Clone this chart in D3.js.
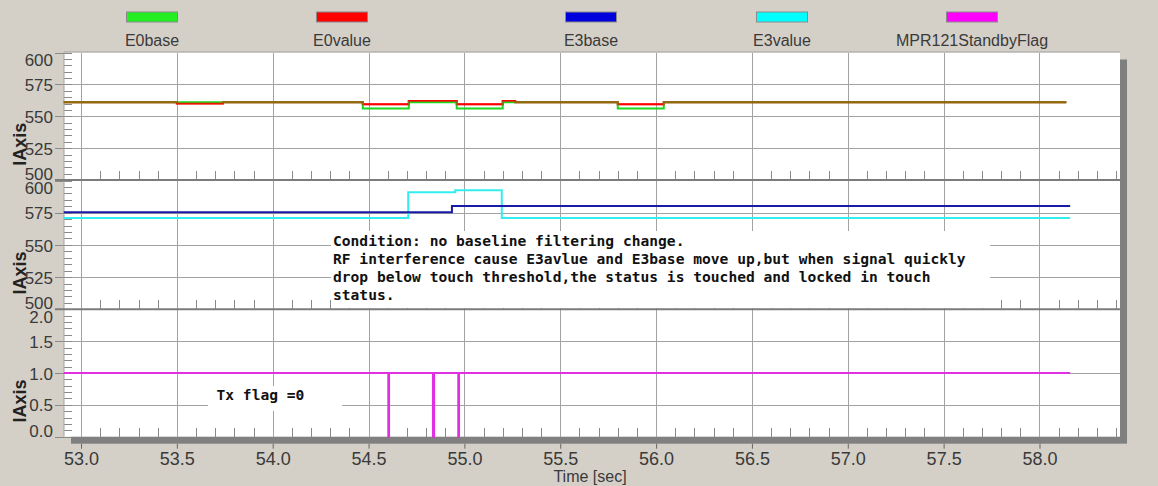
<!DOCTYPE html>
<html><head><meta charset="utf-8">
<script src="https://cdn.jsdelivr.net/npm/d3@7"></script>
<style>
body{margin:0;background:#d4d0c8;}
svg{display:block;}
</style></head><body>
<svg id="c" width="1158" height="486"></svg>
<script>
// ---------- DATA ----------
const seriesNames = ["E0base", "E0value", "E3base", "E3value", "MPR121StandbyFlag"];
const xTickValues = [53.0, 53.5, 54.0, 54.5, 55.0, 55.5, 56.0, 56.5, 57.0, 57.5, 58.0];
const yTicksE = [500, 525, 550, 575, 600];
const yTicksFlag = [0.0, 0.5, 1.0, 1.5, 2.0];

// panel 1 (step data, value holds until next time)
const e0Time  = [52.91, 53.50, 53.74, 54.47, 54.71, 54.96, 55.20, 55.265, 55.80, 56.04, 58.14];
const e0base  = [561,   561,   561,   556,   561,   556,   561,   561,    556,   561,   561];
const e0value = [561,   560,   561,   559.5, 562,   559.5, 562,   561,    559.5, 561,   561];

// panel 2
const e3Time  = [52.91, 54.707, 54.935, 54.952, 55.195, 58.16];
const e3base  = [575.3, 575.3,  580.2,  580.2,  580.2,  580.2];
const e3value = [570.8, 590.8,  590.8,  592.5,  570.8,  570.8];

// panel 3
const flagTime  = [52.91, 54.603, 54.607, 54.836, 54.842, 54.968, 54.972, 58.16];
const flagValue = [1, 0, 1, 0, 1, 0, 1, 1];

const noteLines = [
  "Condition: no baseline filtering change.",
  "RF interference cause E3avlue and E3base move up,but when signal quickly",
  "drop below touch threshold,the status is touched and locked in touch",
  "status."
];
const noteTx = "Tx flag =0";

// ---------- LAYOUT ----------
const svg = d3.select("#c");
const L = 64, R = 1120, T = 52.5, B = 436.7;
const x = d3.scaleLinear().domain([52.9113, 58.42]).range([L, R]);
const panels = [
  {y: d3.scaleLinear().domain([500, 600]).range([180, T]), ticks: yTicksE, minor: d3.range(500, 601, 5), fmt: d3.format("d"), top: T, bottom: 180},
  {y: d3.scaleLinear().domain([500, 600]).range([309.3, 180.5]), ticks: yTicksE, minor: d3.range(500, 601, 5), fmt: d3.format("d"), top: 180.5, bottom: 309.3},
  {y: d3.scaleLinear().domain([0, 2]).range([B, 309.3]), ticks: yTicksFlag, minor: d3.range(0, 2.01, 0.1), fmt: d3.format(".1f"), top: 309.3, bottom: B}
];
const gridCol = "#a3a3a3";
const sepCol = "#7c7c7c";
const textCol = "#3a3a3a";

// shadow + plot area
svg.append("rect").attr("x", L + 7).attr("y", T + 7).attr("width", R - L).attr("height", B - T).attr("fill", "#808080");
svg.append("rect").attr("x", L).attr("y", T).attr("width", R - L).attr("height", B - T).attr("fill", "#fff");

// vertical grid
svg.append("g").attr("transform", `translate(0,${B})`)
  .call(d3.axisBottom(x).tickValues(xTickValues).tickSize(-(B - T)).tickFormat(""))
  .call(g => g.select(".domain").remove())
  .call(g => g.selectAll("line").attr("stroke", gridCol).attr("shape-rendering", "crispEdges"));

// minor x ticks per panel
const minorX = d3.range(52.9, 58.45, 0.1).map(v => +v.toFixed(1)).filter(v => v > 52.92 && Math.abs(v * 2 - Math.round(v * 2)) > 1e-6);
panels.forEach(p => {
  svg.append("g").attr("transform", `translate(0,${p.bottom})`)
    .call(d3.axisTop(x).tickValues(minorX).tickSize(9).tickFormat(""))
    .call(g => g.select(".domain").remove())
    .call(g => g.selectAll("line").attr("stroke", "#8a8a8a").attr("shape-rendering", "crispEdges"));
});

// horizontal grid + y ticks
panels.forEach(p => {
  svg.append("g").attr("transform", `translate(${L},0)`)
    .call(d3.axisLeft(p.y).tickValues(p.ticks.slice(1, -1)).tickSizeInner(-(R - L)).tickSizeOuter(0).tickFormat(""))
    .call(g => g.select(".domain").remove())
    .call(g => g.selectAll("line").attr("stroke", gridCol).attr("shape-rendering", "crispEdges"));
  // minor ticks inside left
  svg.append("g").attr("transform", `translate(${L},0)`)
    .call(d3.axisRight(p.y).tickValues(p.minor).tickSize(8).tickFormat(""))
    .call(g => g.select(".domain").remove())
    .call(g => g.selectAll("line").attr("stroke", "#8a8a8a").attr("shape-rendering", "crispEdges"));
  // major ticks outside + labels
  svg.append("g").attr("transform", `translate(${L},0)`)
    .call(d3.axisLeft(p.y).tickValues(p.ticks).tickSize(9).tickPadding(2).tickFormat(p.fmt))
    .call(g => g.select(".domain").remove())
    .call(g => g.selectAll("line").attr("stroke", "#8a8a8a").attr("shape-rendering", "crispEdges"))
    .call(g => g.selectAll("text")
      .attr("font-family", "Liberation Sans, Arial, sans-serif").attr("font-size", 17).attr("fill", textCol)
      .attr("dy", 0)
      .attr("y", d => {
        const ty = p.y(d);
        const c = Math.max(p.top + 7, Math.min(p.bottom - 6.5, ty));
        return c - ty + 6.1;
      }));
});

// annotation boxes (hide grid)
svg.append("rect").attr("x", 331).attr("y", 231).attr("width", 659).attr("height", 77).attr("fill", "#fff");
svg.append("rect").attr("x", 208).attr("y", 386).attr("width", 134).attr("height", 25).attr("fill", "#fff");

// borders & separators
svg.append("line").attr("x1", L).attr("x2", R).attr("y1", 52).attr("y2", 52).attr("stroke", gridCol);
svg.append("line").attr("x1", L).attr("x2", L).attr("y1", 52).attr("y2", B).attr("stroke", gridCol);
[panels[0].bottom, panels[1].bottom].forEach(yy => {
  svg.append("line").attr("x1", 55).attr("x2", R).attr("y1", yy).attr("y2", yy).attr("stroke", sepCol).attr("stroke-width", 2);
});

// x axis labels
svg.append("g").attr("transform", `translate(0,${B + 7})`)
  .call(d3.axisBottom(x).tickValues(xTickValues).tickSize(5).tickFormat(d3.format(".1f")))
  .call(g => g.select(".domain").remove())
  .call(g => g.selectAll("line").attr("stroke", "#666"))
  .call(g => g.selectAll("text").attr("y", 21).attr("dy", 0)
    .attr("font-family", "Liberation Sans, Arial, sans-serif").attr("font-size", 18).attr("fill", textCol));

// ---------- DATA LINES ----------
const mkLine = (ys, ts, vs) => d3.line().curve(d3.curveStepAfter).x((d, i) => x(ts[i])).y((d, i) => ys(vs[i]))(vs);
const addPath = (d, col, w, op) => svg.append("path").attr("d", d).attr("fill", "none").attr("stroke", col).attr("stroke-width", w).attr("stroke-opacity", op || 1);

addPath(mkLine(panels[0].y, e0Time, e0value), "#ff0000", 2);
addPath(mkLine(panels[0].y, e0Time, e0base), "#1cd81c", 2);
addPath(mkLine(panels[0].y, e0Time, e0value), "#ff0000", 2, 0.5);

addPath(mkLine(panels[1].y, e3Time, e3value), "#33eeee", 2);
addPath(mkLine(panels[1].y, e3Time, e3base), "#1a1aa8", 2);

addPath(mkLine(panels[2].y, flagTime, flagValue), "#e030e0", 2);

// ---------- TEXT ----------
const mono = "DejaVu Sans Mono, Liberation Mono, monospace";
svg.append("g").selectAll("text").data(noteLines).join("text")
  .attr("x", 333).attr("y", (d, i) => 246 + i * 18)
  .attr("font-family", mono).attr("font-weight", "bold").attr("font-size", 14.6).attr("fill", "#111")
  .attr("xml:space", "preserve").style("white-space", "pre").text(d => d);
svg.append("text").attr("x", 216.5).attr("y", 400)
  .attr("font-family", mono).attr("font-weight", "bold").attr("font-size", 14.6).attr("fill", "#111")
  .style("white-space", "pre").text(noteTx);

// y axis titles
panels.forEach(p => {
  svg.append("text").attr("transform", `translate(26,${(p.top + p.bottom) / 2 + 28}) rotate(-90)`)
    .attr("text-anchor", "middle").attr("font-family", "Liberation Sans, Arial, sans-serif")
    .attr("font-weight", "bold").attr("font-size", 18).attr("fill", "#222").text("IAxis");
});

svg.append("text").attr("x", 590).attr("y", 482).attr("text-anchor", "middle")
  .attr("font-family", "Liberation Sans, Arial, sans-serif").attr("font-size", 16).attr("fill", textCol).text("Time [sec]");

// legend
const legendColors = ["#22ee22", "#ff0000", "#0000dd", "#00ffff", "#ff00ff"];
const legendCenters = [152, 342, 591, 782, 972];
const lg = svg.append("g").selectAll("g").data(seriesNames).join("g")
  .attr("transform", (d, i) => `translate(${legendCenters[i]},0)`);
lg.append("rect").attr("x", -25.5).attr("y", 12).attr("width", 51).attr("height", 10)
  .attr("fill", (d, i) => legendColors[i]).attr("stroke", "#8a8a8a").attr("stroke-width", 1);
lg.append("text").attr("y", 46).attr("text-anchor", "middle")
  .attr("font-family", "Liberation Sans, Arial, sans-serif").attr("font-size", 16).attr("fill", textCol).text(d => d);
</script>
</body></html>
